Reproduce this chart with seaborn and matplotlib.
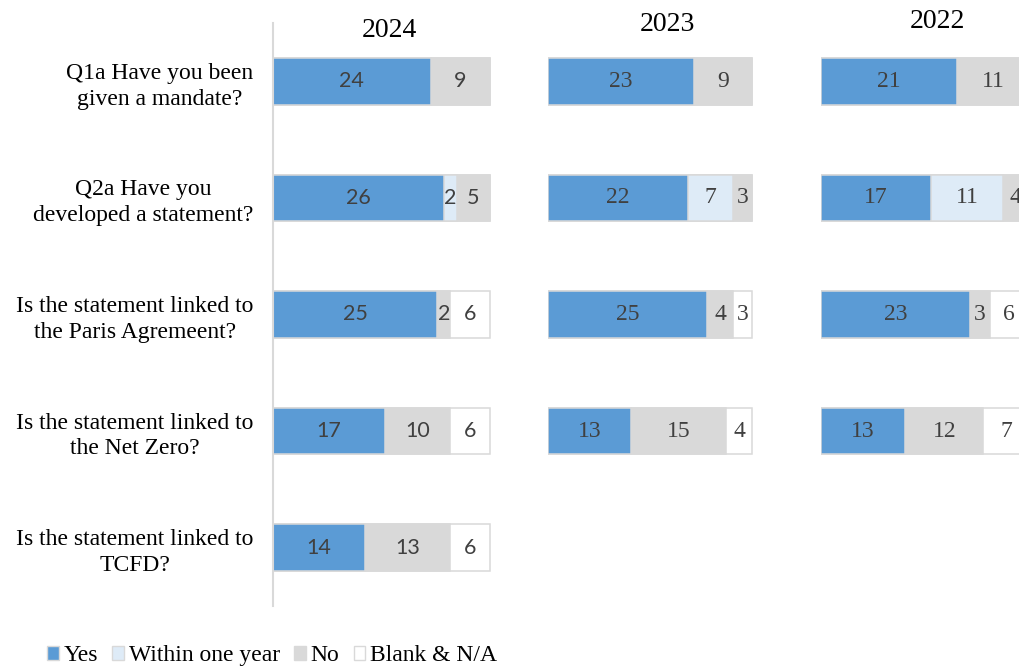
import pandas as pd
import matplotlib.pyplot as plt
from matplotlib.patches import Patch
import seaborn as sns

# questions (row labels) and answer segments
questions = [
    "Q1a Have you been\ngiven a mandate?",
    "Q2a Have you\ndeveloped a statement?",
    "Is the statement linked to\nthe Paris Agremeent?",
    "Is the statement linked to\nthe Net Zero?",
    "Is the statement linked to\nTCFD?",
]
segments = ["Yes", "Within one year", "No", "Blank & N/A"]

# 2024
yes_2024 = [24, 26, 25, 17, 14]
within_2024 = [0, 2, 0, 0, 0]
no_2024 = [9, 5, 2, 10, 13]
blank_2024 = [0, 0, 6, 6, 6]

# 2023 (no TCFD question)
yes_2023 = [23, 22, 25, 13]
within_2023 = [0, 7, 0, 0]
no_2023 = [9, 3, 4, 15]
blank_2023 = [0, 0, 3, 4]

# 2022 (no TCFD question)
yes_2022 = [21, 17, 23, 13]
within_2022 = [0, 11, 0, 0]
no_2022 = [11, 4, 3, 12]
blank_2022 = [0, 0, 6, 7]

colors = ["#5b9bd5", "#deebf7", "#d9d9d9", "#ffffff"]
edge = "#d9d9d9"
txt = "#404040"

sns.set_style("white")
plt.rcParams['font.family'] = ['Liberation Serif', 'DejaVu Serif']
plt.rcParams['text.color'] = 'black'

W, H = 1020, 666
fig = plt.figure(figsize=(W / 100, H / 100), dpi=100)


def panel(left_px, width_px, xmax, yes, within, no, blank):
    ax = fig.add_axes([left_px / W, 60 / H, width_px / W, 583 / H])
    n = len(yes)
    df = pd.DataFrame({"question": questions[:n], "Yes": yes,
                       "Within one year": within, "No": no, "Blank & N/A": blank})
    cum = df[segments].cumsum(axis=1)
    cum["question"] = df["question"]
    # stacked bars: draw cumulative totals from the back to the front
    for seg, col in reversed(list(zip(segments, colors))):
        sns.barplot(data=cum, x=seg, y="question", order=questions, orient="h",
                    color=col, saturation=1, edgecolor=edge, linewidth=1.1,
                    width=0.4, errorbar=None, ax=ax)
    ax.set_xlim(0, xmax)
    ax.set_ylim(len(questions) - 0.5, -0.5)
    ax.set_xlabel("")
    ax.set_ylabel("")
    return ax, df


def add_numbers(ax, df, size, family=None):
    for i, row in df.iterrows():
        start = 0
        for seg in segments:
            v = row[seg]
            if v > 0:
                kw = {"family": family} if family else {}
                ax.text(start + v / 2, i, str(v), ha="center", va="center",
                        color=txt, fontsize=size, **kw)
            start += v


ax24, d24 = panel(273, 220, 33.5, yes_2024, within_2024, no_2024, blank_2024)
ax23, d23 = panel(548, 207, 32.5, yes_2023, within_2023, no_2023, blank_2023)
ax22, d22 = panel(821, 211, 32.5, yes_2022, within_2022, no_2022, blank_2022)

add_numbers(ax24, d24, 15.5, ['Lato', 'DejaVu Sans'])
add_numbers(ax23, d23, 17)
add_numbers(ax22, d22, 17)

# left panel keeps the question labels and a thin axis line
for s in ["top", "right", "bottom"]:
    ax24.spines[s].set_visible(False)
ax24.spines["left"].set_color(edge)
ax24.spines["left"].set_linewidth(1.5)
ax24.set_xticks([])
ax24.set_yticks(range(len(questions)))
ax24.set_yticklabels(questions, fontsize=17, color="black")
ax24.tick_params(axis="y", length=0, pad=14)
for t in ax24.get_yticklabels():
    t.set_multialignment("center")
    t.set_linespacing(1.3)

ax23.axis("off")
ax22.axis("off")

ax24.text(0.53, 0.987, "2024", transform=ax24.transAxes, ha="center", va="center", fontsize=20)
ax23.text(0.575, 0.998, "2023", transform=ax23.transAxes, ha="center", va="center", fontsize=20)
ax22.text(0.55, 1.002, "2022", transform=ax22.transAxes, ha="center", va="center", fontsize=20)

handles = [Patch(facecolor=c, edgecolor=edge, linewidth=1.0, label=s)
           for s, c in zip(segments, colors)]
fig.legend(handles=handles, loc="lower left", bbox_to_anchor=(33 / W, -0.022),
           ncol=4, frameon=False, fontsize=17, handlelength=0.5, handleheight=0.5,
           handletextpad=0.2, columnspacing=0.6, borderaxespad=0.2, labelcolor="black")

fig.savefig("out.png", dpi=100)
